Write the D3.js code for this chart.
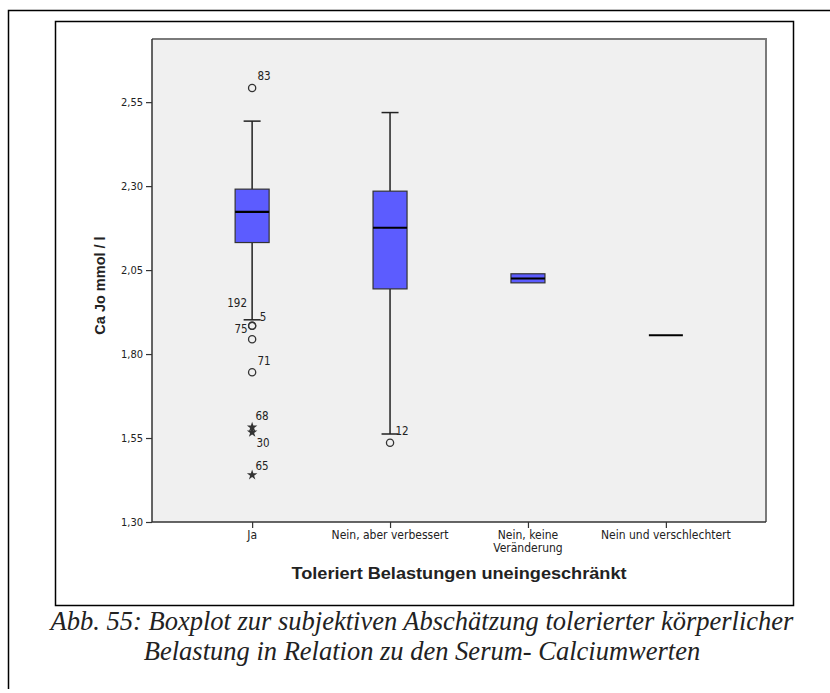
<!DOCTYPE html>
<html>
<head>
<meta charset="utf-8">
<script src="https://cdn.jsdelivr.net/npm/d3@7"></script>
<style>
  body { margin: 0; background: #fff; }
  svg text { font-family: "DejaVu Sans Condensed", "DejaVu Sans", sans-serif; fill: #222; }
</style>
</head>
<body>
<div id="vis1"></div>
<script>
// Boxplot: Ca Jo mmol/l by "Toleriert Belastungen uneingeschränkt"

// Data
const categories = ["Ja", "Nein, aber verbessert", "Nein, keine Veränderung", "Nein und verschlechtert"];
const tickLabels = [["Ja"], ["Nein, aber verbessert"], ["Nein, keine", "Veränderung"], ["Nein und verschlechtert"]];
const lowWhisker = [1.902, 1.562, 2.012, 1.856];
const q1 = [2.132, 1.994, 2.012, 1.856];
const median = [2.2235, 2.176, 2.025, 1.856];
const q3 = [2.291, 2.285, 2.039, 1.856];
const highWhisker = [2.4935, 2.519, 2.039, 1.856];
// outliers: category, value, case id, kind (o = outlier, * = extreme)
const outGroup = ["Ja", "Ja", "Ja", "Ja", "Ja", "Ja", "Ja", "Ja", "Nein, aber verbessert"];
const outValue = [2.592, 1.884, 1.884, 1.844, 1.746, 1.582, 1.567, 1.440, 1.536];
const outId = ["83", "5", "75", "192", "71", "68", "30", "65", "12"];
const outKind = ["o", "o", "o", "o", "o", "*", "*", "*", "o"];
const yTicks = [1.30, 1.55, 1.80, 2.05, 2.30, 2.55];

const width = 830, height = 693;
const plot = {left: 152, right: 766, top: 39, bottom: 522};

const x = d3.scalePoint()
    .domain(categories)
    .range([plot.left, plot.right])
    .padding(0.726);
const y = d3.scaleLinear()
    .domain([1.30, 2.738])
    .range([plot.bottom, plot.top]);

const boxW = 34;
const fmt = v => d3.format(".2f")(v).replace(".", ",");

// label placement next to outliers (dx, dy of label centre)
const labelOffset = {"83": [12, -12], "5": [11, -9], "75": [-11, 3], "192": [-15, -36],
                     "71": [12, -11], "68": [10, -11], "30": [11, 11], "65": [10, -9], "12": [12, -12]};

const svg = d3.select("#vis1").append("svg").attr("width", width).attr("height", height);

// frames
svg.append("path").attr("d", "M8.5,689V10.5H830")
    .attr("fill", "none").attr("stroke", "#000").attr("stroke-width", 1.5);
svg.append("rect").attr("x", 55.5).attr("y", 21.5).attr("width", 738).attr("height", 584)
    .attr("fill", "none").attr("stroke", "#000").attr("stroke-width", 1.5);

// plot background
svg.append("rect").attr("x", plot.left).attr("y", plot.top)
    .attr("width", plot.right - plot.left).attr("height", plot.bottom - plot.top)
    .attr("fill", "#f0f0f0");
svg.append("path")
    .attr("d", `M${plot.left},${plot.top}H${plot.right}V${plot.bottom}`)
    .attr("fill", "none").attr("stroke", "#7a7a7a").attr("stroke-width", 2);

// axes
const yAxis = g => g
    .attr("transform", `translate(${plot.left},0)`)
    .call(d3.axisLeft(y).tickValues(yTicks).tickFormat(fmt).tickSize(6).tickSizeOuter(0).tickPadding(3))
    .call(g => g.select(".domain").attr("d", `M0,${plot.top}V${plot.bottom}`).attr("stroke", "#333").attr("stroke-width", 1.5))
    .call(g => g.selectAll(".tick line").attr("stroke", "#333").attr("stroke-width", 1.2))
    .call(g => g.selectAll(".tick text").attr("font-size", 11).attr("fill", "#333")
        .style("font-family", "'DejaVu Sans Condensed', 'DejaVu Sans', sans-serif"));

const xAxis = g => g
    .attr("transform", `translate(0,${plot.bottom})`)
    .call(d3.axisBottom(x).tickSize(6).tickSizeOuter(0).tickFormat(() => ""))
    .call(g => g.select(".domain").attr("d", `M${plot.left},0H${plot.right}`).attr("stroke", "#333").attr("stroke-width", 1.5))
    .call(g => g.selectAll(".tick line").attr("stroke", "#333").attr("stroke-width", 1.2));

svg.append("g").attr("id", "y_axis").call(yAxis);
svg.append("g").attr("id", "x_axis").call(xAxis);

// category labels (some on two lines)
svg.append("g").selectAll("text").data(categories).join("text")
    .attr("x", d => x(d))
    .attr("y", plot.bottom + 17)
    .attr("text-anchor", "middle")
    .attr("font-size", 12)
    .attr("fill", "#333")
    .selectAll("tspan").data((d, i) => tickLabels[i]).join("tspan")
    .attr("x", function() { return this.parentNode.getAttribute("x"); })
    .attr("dy", (d, i) => i === 0 ? 0 : 12.5)
    .text(d => d);

// boxes
const boxes = svg.append("g").selectAll("g").data(categories).join("g");
boxes.each(function(c, i) {
    const g = d3.select(this);
    const cx = x(c);
    if (q3[i] > q1[i]) {
        // whiskers
        g.append("line").attr("x1", cx).attr("x2", cx)
            .attr("y1", y(highWhisker[i])).attr("y2", y(q3[i]))
            .attr("stroke", "#222").attr("stroke-width", 1.5);
        g.append("line").attr("x1", cx).attr("x2", cx)
            .attr("y1", y(q1[i])).attr("y2", y(lowWhisker[i]))
            .attr("stroke", "#222").attr("stroke-width", 1.5);
        if (highWhisker[i] > q3[i]) {
            g.append("line").attr("x1", cx - boxW / 4).attr("x2", cx + boxW / 4)
                .attr("y1", y(highWhisker[i])).attr("y2", y(highWhisker[i]))
                .attr("stroke", "#222").attr("stroke-width", 1.5);
        }
        if (lowWhisker[i] < q1[i]) {
            g.append("line").attr("x1", cx - boxW / 4).attr("x2", cx + boxW / 4)
                .attr("y1", y(lowWhisker[i])).attr("y2", y(lowWhisker[i]))
                .attr("stroke", "#222").attr("stroke-width", 1.5);
        }
        g.append("rect")
            .attr("x", cx - boxW / 2).attr("width", boxW)
            .attr("y", y(q3[i])).attr("height", y(q1[i]) - y(q3[i]))
            .attr("fill", "#5c5cff").attr("stroke", "#333").attr("stroke-width", 1.2);
    }
    g.append("line").attr("x1", cx - boxW / 2).attr("x2", cx + boxW / 2)
        .attr("y1", y(median[i])).attr("y2", y(median[i]))
        .attr("stroke", "#000").attr("stroke-width", 2.2);
});

// outliers
const outliers = outValue.map((v, i) => ({g: outGroup[i], v: v, id: outId[i], kind: outKind[i]}));
const og = svg.append("g");
og.selectAll("circle").data(outliers.filter(d => d.kind === "o")).join("circle")
    .attr("cx", d => x(d.g)).attr("cy", d => y(d.v)).attr("r", 3.6)
    .attr("fill", "none").attr("stroke", "#333").attr("stroke-width", 1.3);
og.selectAll("path").data(outliers.filter(d => d.kind === "*")).join("path")
    .attr("transform", d => `translate(${x(d.g)},${y(d.v)})`)
    .attr("d", d3.symbol(d3.symbolStar, 34))
    .attr("fill", "#333");
og.selectAll("text").data(outliers).join("text")
    .attr("x", d => x(d.g) + labelOffset[d.id][0])
    .attr("y", d => y(d.v) + labelOffset[d.id][1] + 4)
    .attr("text-anchor", "middle")
    .attr("font-size", 11.5)
    .attr("fill", "#333")
    .text(d => d.id);

// axis titles
svg.append("text").attr("id", "y_label")
    .attr("transform", `translate(105,${(plot.top + plot.bottom) / 2 + 5}) rotate(-90)`)
    .attr("text-anchor", "middle")
    .style("font-family", "'Liberation Sans', Arial, sans-serif")
    .attr("font-weight", "bold")
    .attr("font-size", 14.5)
    .text("Ca Jo mmol / l");

svg.append("text").attr("id", "x_label")
    .attr("x", 459).attr("y", 579)
    .attr("text-anchor", "middle")
    .style("font-family", "'Liberation Sans', Arial, sans-serif")
    .attr("font-weight", "bold")
    .attr("font-size", 16)
    .attr("textLength", 335)
    .attr("lengthAdjust", "spacingAndGlyphs")
    .text("Toleriert Belastungen uneingeschränkt");

// caption
const caption = ["Abb. 55: Boxplot zur subjektiven Abschätzung tolerierter körperlicher",
                 "Belastung in Relation zu den Serum- Calciumwerten"];
svg.append("g").selectAll("text").data(caption).join("text")
    .attr("x", 422).attr("y", (d, i) => 630 + i * 30)
    .attr("text-anchor", "middle")
    .style("font-family", "'Liberation Serif', 'Times New Roman', serif")
    .style("font-style", "italic")
    .attr("font-size", 26.5)
    .attr("fill", "#000")
    .text(d => d);
</script>
</body>
</html>
